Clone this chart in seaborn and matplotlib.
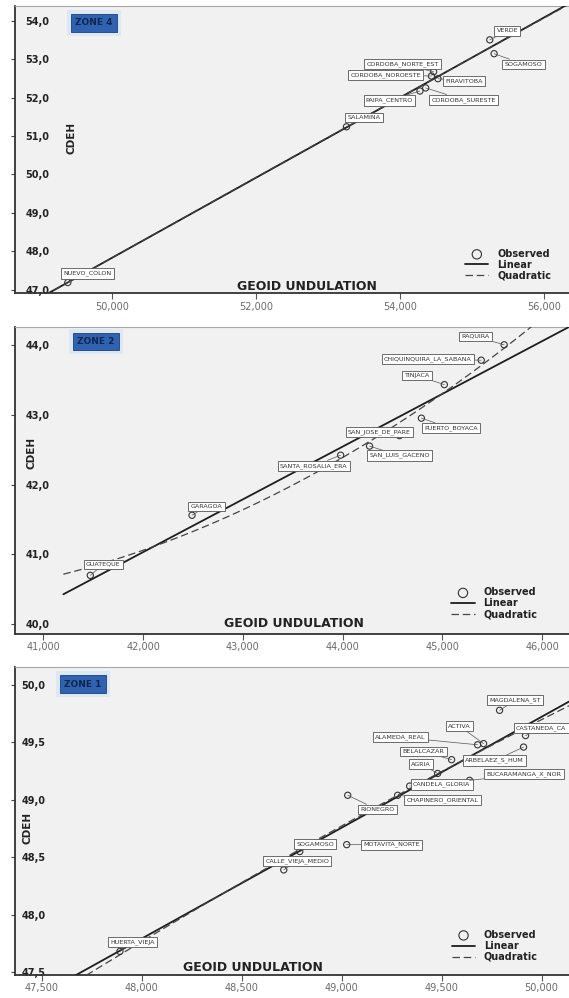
import matplotlib
matplotlib.use("Agg")
import matplotlib.pyplot as plt
import numpy as np
import pandas as pd
import seaborn as sns

sns.set_theme(style="white")
plt.rcParams["font.family"] = ["DejaVu Sans"]

# ---------------- data ----------------
zone4_names = ["NUEVO_COLON", "SALAMINA", "PAIPA_CENTRO", "CORDOBA_SURESTE", "FIRAVITOBA",
               "CORDOBA_NOROESTE", "CORDOBA_NORTE_EST", "VERDE", "SOGAMOSO"]
zone4_geoid = [49.39, 53.26, 54.28, 54.36, 54.53, 54.44, 54.47, 55.25, 55.31]
zone4_cdeh = [47.19, 51.24, 52.17, 52.25, 52.49, 52.56, 52.67, 53.50, 53.14]
zone4_xticks = [50.0, 52.0, 54.0, 56.0]
zone4_yticks = [47.0, 48.0, 49.0, 50.0, 51.0, 52.0, 53.0, 54.0]

zone2_names = ["GUATEQUE", "GARAGOA", "SANTA_ROSALIA_ERA", "SAN_LUIS_GACENO", "SAN_JOSE_DE_PARE",
               "PUERTO_BOYACA", "TINJACA", "CHIQUINQUIRA_LA_SABANA", "RAQUIRA"]
zone2_geoid = [41.47, 42.49, 43.98, 44.27, 44.57, 44.79, 45.02, 45.39, 45.62]
zone2_cdeh = [40.70, 41.56, 42.42, 42.55, 42.70, 42.95, 43.43, 43.78, 44.00]
zone2_xticks = [41.0, 42.0, 43.0, 44.0, 45.0, 46.0]
zone2_yticks = [40.0, 41.0, 42.0, 43.0, 44.0]

zone1_names = ["HUERTA_VIEJA", "CALLE_VIEJA_MEDIO", "SOGAMOSO", "MOTAVITA_NORTE", "RIONEGRO",
               "CHAPINERO_ORIENTAL", "CANDELA_GLORIA", "AGRIA", "BELALCAZAR", "BUCARAMANGA_X_NOR",
               "ALAMEDA_REAL", "ACTIVA", "ARBELAEZ_S_HUM", "CASTANEDA_CA", "MAGDALENA_ST"]
zone1_geoid = [47.89, 48.71, 48.79, 49.025, 49.03, 49.28, 49.34, 49.48, 49.55, 49.64,
               49.68, 49.71, 49.91, 49.92, 49.79]
zone1_cdeh = [47.68, 48.39, 48.55, 48.61, 49.04, 49.04, 49.12, 49.23, 49.35, 49.17,
              49.48, 49.49, 49.46, 49.56, 49.78]
zone1_xticks = [47.5, 48.0, 48.5, 49.0, 49.5, 50.0]
zone1_yticks = [47.5, 48.0, 48.5, 49.0, 49.5, 50.0]

# ---------------- layout / style per panel ----------------
panels = [
    dict(title="ZONE 4", names=zone4_names, x=zone4_geoid, y=zone4_cdeh,
         xticks=zone4_xticks, yticks=zone4_yticks,
         rect=[0.0255, 0.7061, 0.9745, 0.2879], xlim=(48.65, 56.35), ylim=(46.91, 54.38),
         fit_range=(48.65, 56.35), ypad=-11,
         offsets=[(14, 6.5), (12.6, 6.5), (-22, -6.8), (27.4, -8.6), (19.1, -1.8),
                  (-32.8, 0.7), (-22.3, 5.4), (12.6, 6.5), (21.2, -7.6)],
         badge=(0.143, 0.941), xlab=(0.528, 0.022), ylab=(0.102, 0.54), leg=(0.975, 0.03)),
    dict(title="ZONE 2", names=zone2_names, x=zone2_geoid, y=zone2_cdeh,
         xticks=zone2_xticks, yticks=zone2_yticks,
         rect=[0.0255, 0.3647, 0.9745, 0.3073], xlim=(40.71, 46.27), ylim=(39.86, 44.25),
         fit_range=(41.2, 46.27), ypad=-11,
         offsets=[(9.4, 7.9), (10.4, 6.5), (-19.4, -7.6), (21.6, -6.8), (-14.4, 2.5),
                  (21.2, -7.2), (-19.8, 6.5), (-38.5, 0.7), (-20.9, 6.1)],
         badge=(0.147, 0.954), xlab=(0.504, 0.033), ylab=(0.03, 0.59), leg=(0.95, 0.035)),
    dict(title="ZONE 1", names=zone1_names, x=zone1_geoid, y=zone1_cdeh,
         xticks=zone1_xticks, yticks=zone1_yticks,
         rect=[0.0264, 0.0230, 0.9736, 0.3086], xlim=(47.365, 50.1375), ylim=(47.474, 50.157),
         fit_range=(47.365, 50.1375), ypad=-7.6,
         offsets=[(9.0, 6.8), (9.7, 6.5), (11.2, 5.4), (32.4, 0), (21.2, -10.1), (32.4, -3.2),
                  (23, 1.1), (-11.9, 6.8), (-20.2, 5.8), (39.2, 4.3), (-55.8, 5.4),
                  (-17.3, 12.6), (-20.9, -9.7), (11.2, 5.4), (11.2, 7.2)],
         badge=(0.123, 0.945), xlab=(0.43, 0.023), ylab=(0.022, 0.477), leg=(0.951, 0.03)),
]

fig = plt.figure(figsize=(5.69, 9.98), dpi=100, facecolor="white")

for p in panels:
    ax = fig.add_axes(p["rect"])
    ax.set_facecolor("#f1f1f1")
    df = pd.DataFrame({"GEOID UNDULATION": p["x"], "CDEH": p["y"]})

    # fitted curves are evaluated across fit_range
    ax.set_xlim(*p["fit_range"])
    sns.scatterplot(data=df, x="GEOID UNDULATION", y="CDEH", ax=ax, marker="o", s=20,
                    facecolors="none", edgecolor="#333333", linewidth=0.8,
                    label="Observed", zorder=4)
    sns.regplot(data=df, x="GEOID UNDULATION", y="CDEH", ax=ax, scatter=False, order=1,
                ci=None, truncate=False, label="Linear",
                line_kws=dict(color="#1e1e1e", lw=1.3, zorder=3))
    sns.regplot(data=df, x="GEOID UNDULATION", y="CDEH", ax=ax, scatter=False, order=2,
                ci=None, truncate=False, label="Quadratic",
                line_kws=dict(color="#444444", lw=0.9, ls=(0, (6, 3)), zorder=3))
    ax.set_xlim(*p["xlim"])
    ax.set_ylim(*p["ylim"])

    # point labels in boxes with leader lines
    for name, gx, cy, off in zip(p["names"], p["x"], p["y"], p["offsets"]):
        ax.annotate(name, xy=(gx, cy), xytext=off, textcoords="offset points",
                    ha="center", va="center", fontsize=4.6, color="#333333", zorder=6,
                    bbox=dict(boxstyle="square,pad=0.35", fc="white", ec="#555555", lw=0.6),
                    arrowprops=dict(arrowstyle="-", color="#555555", lw=0.5,
                                    shrinkA=0, shrinkB=0))

    # ticks: y labels sit inside the frame, x labels below
    ax.set_xticks(p["xticks"])
    ax.set_xticklabels([f"{v:.3f}".replace(".", ",") for v in p["xticks"]])
    ax.set_yticks(p["yticks"])
    ax.set_yticklabels([f"{v:.1f}".replace(".", ",") for v in p["yticks"]],
                       fontweight="bold", ha="left")
    ax.tick_params(axis="y", direction="out", length=3, width=0.8, color="#444444",
                   labelsize=7, labelcolor="#222222", pad=p["ypad"], left=True)
    ax.tick_params(axis="x", direction="out", length=4, width=0.8, color="#555555",
                   labelsize=7, labelcolor="#6a6a6a", pad=2, bottom=True)

    for side in ("left", "bottom"):
        ax.spines[side].set_color("#333333")
        ax.spines[side].set_linewidth(1.3)
    ax.spines["top"].set_color("#a8a8a8")
    ax.spines["top"].set_linewidth(0.8)
    ax.spines["right"].set_visible(False)

    ax.set_xlabel("GEOID UNDULATION", fontsize=9, fontweight="bold", color="#222222")
    ax.xaxis.set_label_coords(*p["xlab"])
    ax.xaxis.label.set_va("center")
    ax.set_ylabel("CDEH", fontsize=7.5, fontweight="bold", color="#222222")
    ax.yaxis.set_label_coords(*p["ylab"])
    ax.yaxis.label.set_va("center")

    # zone badge
    bx, by = p["badge"]
    ax.text(bx, by, p["title"], transform=ax.transAxes, ha="center", va="center",
            fontsize=6.5, fontweight="bold", color="#cfe3f7", zorder=5,
            bbox=dict(boxstyle="square,pad=0.9", fc="#cfe3f7", ec="none", alpha=0.6))
    ax.text(bx, by, p["title"], transform=ax.transAxes, ha="center", va="center",
            fontsize=6.5, fontweight="bold", color="#10264f", zorder=6,
            bbox=dict(boxstyle="square,pad=0.45", fc="#2f63b1", ec="#1d3f7a", lw=0.6))

    leg = ax.legend(loc="lower right", bbox_to_anchor=p["leg"], frameon=False,
                    prop=dict(size=7, weight="bold"), handlelength=2.4,
                    labelspacing=0.1, borderaxespad=0, handletextpad=0.9, markerscale=1.5)
    for t in leg.get_texts():
        t.set_color("#222222")

fig.savefig("out.png", dpi=100, facecolor="white")
